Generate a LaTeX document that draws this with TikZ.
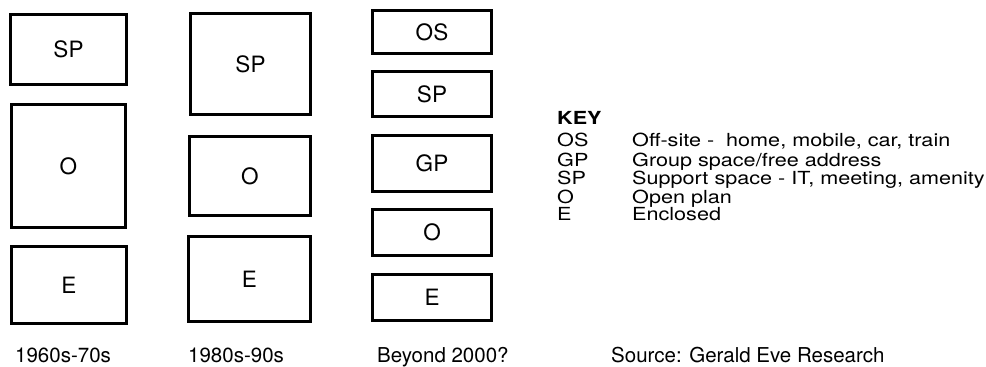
\documentclass[tikz,border=0pt]{standalone}
\usepackage{fontspec}
\setmainfont{TeX Gyre Heros}
% key entries are set in a wide, low face
\newcommand{\widetext}[1]{\scalebox{1.2}[1]{#1}}
\begin{document}
\begin{tikzpicture}[x=1pt,y=-1pt,
  space/.style={draw=black, line width=2.6pt, inner sep=0pt,
    font=\fontsize{22.5}{24}\selectfont},
  caption/.style={anchor=base west, inner sep=0pt,
    font=\fontsize{20.5}{23}\selectfont},
  keycode/.style={anchor=base west, inner sep=0pt,
    font=\fontsize{18}{20}\selectfont},
  keytext/.style={anchor=base west, inner sep=0pt,
    font=\fontsize{18}{20}\selectfont}]
\useasboundingbox (0,0) rectangle (986,367);

% 1960s-70s
\node[space, minimum width=116pt, minimum height=70pt] (aSP) at (68.5,49.5) {SP};
\node[space, minimum width=114pt, minimum height=123pt] (aO) at (68.5,166) {O};
\node[space, minimum width=115pt, minimum height=77pt] (aE) at (69,285) {E};
\node[caption] (aL) at (15,362) {1960s-70s};

% 1980s-90s
\node[space, minimum width=120pt, minimum height=101pt] (bSP) at (250.5,64) {SP};
\node[space, minimum width=121pt, minimum height=79pt] (bO) at (250,176) {O};
\node[space, minimum width=122pt, minimum height=85pt] (bE) at (249.5,279) {E};
\node[caption] (bL) at (188,362) {1980s-90s};

% Beyond 2000?
\node[space, minimum width=119pt, minimum height=43pt] (cOS) at (432,32) {OS};
\node[space, minimum width=119pt, minimum height=45pt] (cSP) at (432,94) {SP};
\node[space, minimum width=119pt, minimum height=56pt] (cGP) at (432,163.5) {GP};
\node[space, minimum width=119pt, minimum height=46pt] (cO) at (432,232.5) {O};
\node[space, minimum width=119pt, minimum height=46pt] (cE) at (432,297.5) {E};
\node[caption] (cL) at (377,362) {Beyond 2000?};

% key
\node[keycode, font=\fontsize{18}{20}\selectfont\bfseries] (key) at (557,124.5) {\widetext{KEY}};
\node[keycode] (kOS) at (557,146.5) {\widetext{OS}};
\node[keycode] (kGP) at (557,166.5) {\widetext{GP}};
\node[keycode] (kSP) at (557,184.5) {\widetext{SP}};
\node[keycode] (kO) at (557,203.5) {\widetext{O}};
\node[keycode] (kE) at (557,220.5) {\widetext{E}};
\node[keytext] (tOS) at (632,146.5) {\widetext{Off-site -\ \ home, mobile, car, train}};
\node[keytext] (tGP) at (632,166.5) {\widetext{Group space/free address}};
\node[keytext] (tSP) at (632,184.5) {\widetext{Support space - IT, meeting, amenity}};
\node[keytext] (tO) at (632,203.5) {\widetext{Open plan}};
\node[keytext] (tE) at (632,220.5) {\widetext{Enclosed}};

\node[caption] (src) at (611,362) {Source: Gerald Eve Research};
\end{tikzpicture}
\end{document}
